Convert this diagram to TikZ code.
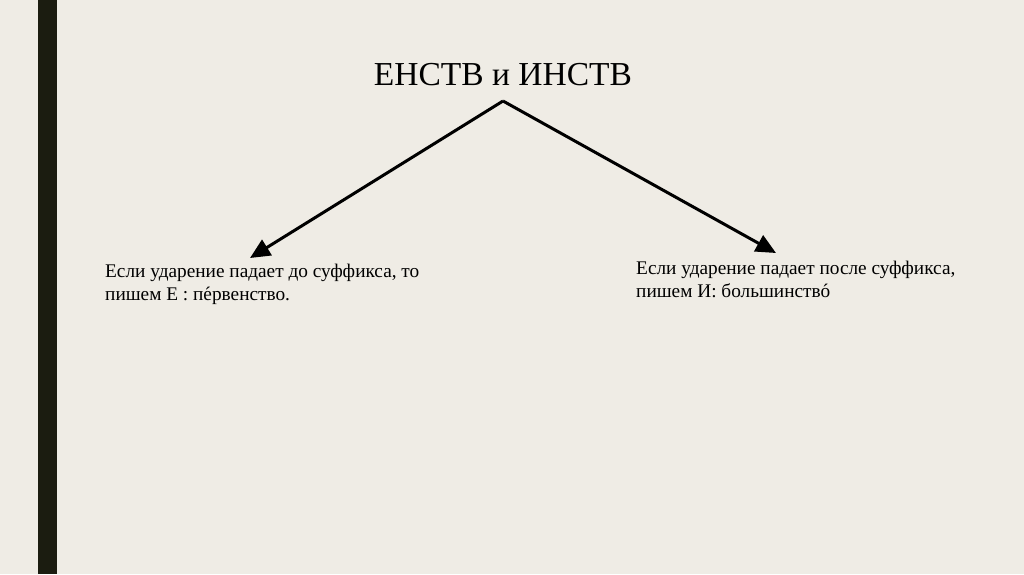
\documentclass[tikz,border=0pt]{standalone}
\usepackage{fontspec}
\setmainfont{Liberation Serif}
\usetikzlibrary{arrows.meta}
\definecolor{bg}{HTML}{EFECE5}
\definecolor{bar}{HTML}{1B1C10}
\newcommand\stressed[1]{\ooalign{#1\cr\hidewidth\char"00B4\hidewidth\cr}}
\tikzset{
  body/.style={anchor=base west, inner sep=0pt, align=left, font=\fontsize{19.3}{23}\selectfont, text=black},
  branch/.style={line width=3pt, -{Triangle[length=20pt,width=18pt]}},
}
\begin{document}
\begin{tikzpicture}[x=1pt,y=-1pt]
\fill[bg] (0,0) rectangle (1024,574);
\useasboundingbox (0,0) rectangle (1024,574);
\fill[bar] (38,0) rectangle (57,574);
\node[inner sep=0pt, anchor=base, font=\fontsize{33.5}{40}\selectfont] (title) at (503,85) {ЕНСТВ и ИНСТВ};
\coordinate (apex) at (503,101);
\node[body] (left) at (105,300) {Если ударение падает до суффикса, то\\пишем Е : п\stressed{е}рвенство.};
\node[body] (right) at (636,297) {Если ударение падает после суффикса,\\пишем И: большинств\stressed{о}};
\coordinate (tipL) at (250,258);
\coordinate (tipR) at (776,253);
\draw[branch] (apex) -- (tipL);
\draw[branch] (apex) -- (tipR);
\end{tikzpicture}
\end{document}
